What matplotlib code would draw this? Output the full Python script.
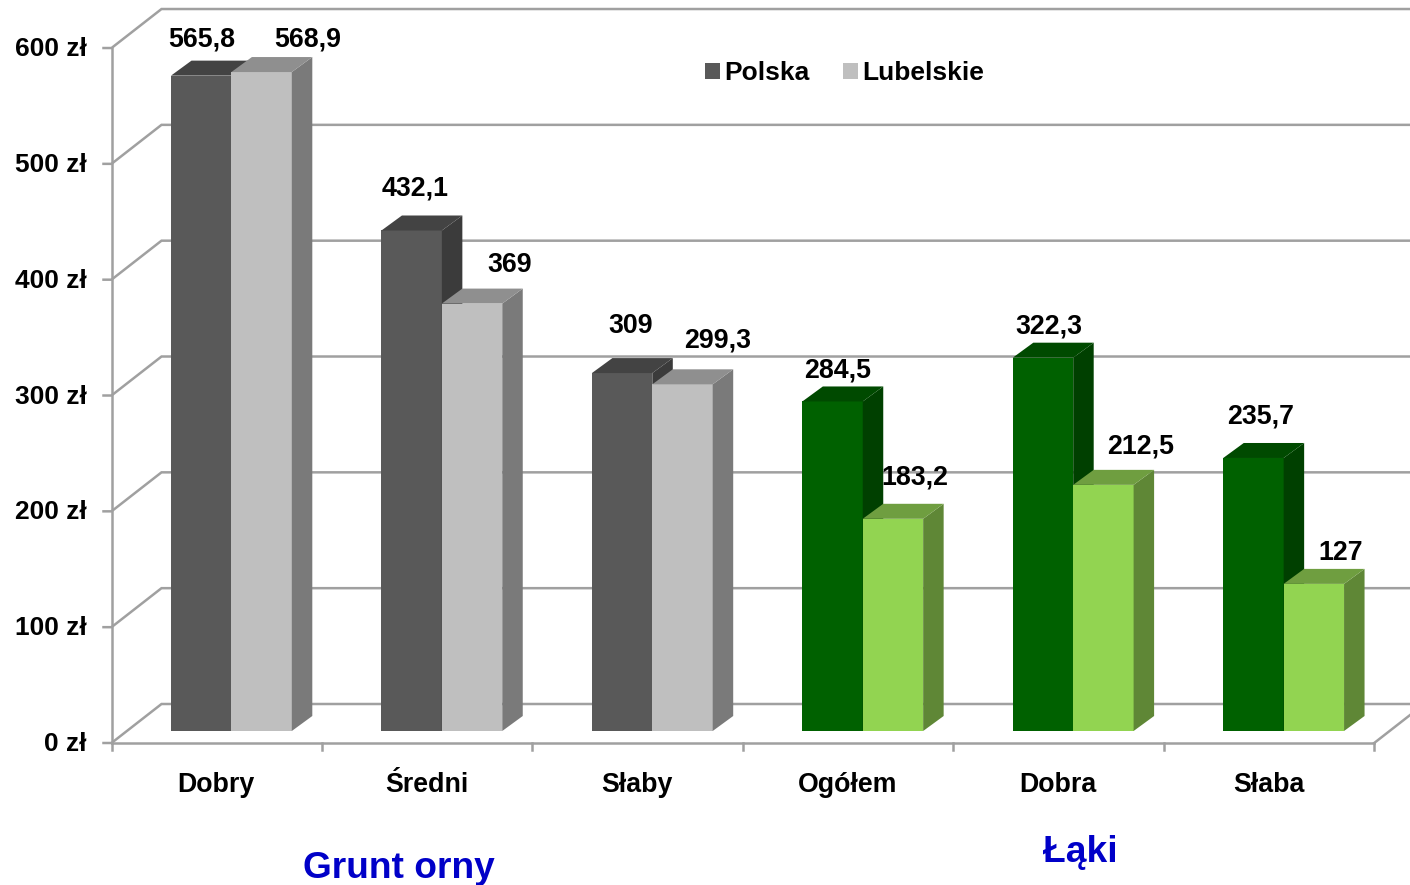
import matplotlib
matplotlib.use('Agg')
import matplotlib.pyplot as plt
from matplotlib.patches import Patch

plt.rcParams['font.family'] = ['Liberation Sans', 'DejaVu Sans']
plt.rcParams['font.weight'] = 'bold'

categories = ['Dobry', 'Średni', 'Słaby', 'Ogółem', 'Dobra', 'Słaba']
polska = [565.8, 432.1, 309, 284.5, 322.3, 235.7]
lubelskie = [568.9, 369, 299.3, 183.2, 212.5, 127]
polska_labels = ['565,8', '432,1', '309', '284,5', '322,3', '235,7']
lubelskie_labels = ['568,9', '369', '299,3', '183,2', '212,5', '127']
y_ticks = [0, 100, 200, 300, 400, 500, 600]
y_tick_labels = ['0 zł', '100 zł', '200 zł', '300 zł', '400 zł', '500 zł', '600 zł']

# label offsets from the bar top (px), set by hand like in the original chart
polska_off = [(1, 36), (3.5, 42), (8.5, 47), (5.5, 31), (5.5, 31), (7.5, 41)]
lubelskie_off = [(46, 33), (38, 39), (35, 44), (21.5, 41), (37.5, 38), (26.5, 31)]

# colours: front, side, top
dark_grey = ('#595959', '#3b3b3b', '#434343')
light_grey = ('#bfbfbf', '#7a7a7a', '#8f8f8f')
dark_green = ('#006100', '#004000', '#004a00')
light_green = ('#92d451', '#5f8736', '#6f9e40')
grid_col = '#a0a0a0'

# pixel scale of the front plane
W, H = 1410, 885
X0, Y0 = 111.5, 743
PX_CAT = 210.45
PX_VAL = 1.1583


def dx(px):
    return px / PX_CAT


def dy(px):
    return px / PX_VAL


fig = plt.figure(figsize=(W / 100, H / 100), dpi=100)
ax = fig.add_axes([0, 0, 1, 1])
ax.set_xlim(dx(-X0), dx(W - X0))
ax.set_ylim(dy(Y0 - H), dy(Y0))
ax.axis('off')

n = len(categories)
wall_x = dx(50)
wall_y = dy(39)
lw = 1.8

# walls and grid
ax.plot([0, 0], [0, 600], color=grid_col, lw=lw, zorder=1)
ax.plot([0, n], [0, 0], color=grid_col, lw=lw, zorder=1)
for t, lab in zip(y_ticks, y_tick_labels):
    ax.plot([dx(-8), 0, wall_x, ax.get_xlim()[1]], [t, t, t + wall_y, t + wall_y],
            color=grid_col, lw=lw, zorder=1, solid_joinstyle='miter')
    ax.text(dx(-24.5), t - dy(1), lab, ha='right', va='center', fontsize=19, color='black')
ax.plot([n, n + wall_x], [0, wall_y], color=grid_col, lw=lw, zorder=1)
for i in range(n + 1):
    ax.plot([i, i], [0, dy(-7)], color=grid_col, lw=lw, zorder=1)

# bars
bar_w = dx(60.4)
start = dx(59.5)
base = dy(12)
depth_x = dx(20.5)
depth_y = dy(15)


def bar3d(x, v, cols, z):
    ax.bar(x, v, width=bar_w, bottom=base, align='edge', color=cols[0], lw=0, zorder=z)
    top = base + v
    r = x + bar_w
    ax.fill([r, r + depth_x, r + depth_x, r],
            [base, base + depth_y, top + depth_y, top], color=cols[1], lw=0, zorder=z)
    ax.fill([x, x + depth_x, r + depth_x, r],
            [top, top + depth_y, top + depth_y, top], color=cols[2], lw=0, zorder=z)


for i in range(n):
    c1 = dark_grey if i < 3 else dark_green
    c2 = light_grey if i < 3 else light_green
    bar3d(i + start, polska[i], c1, 2 + i * 2)
    bar3d(i + start + bar_w, lubelskie[i], c2, 3 + i * 2)

# value labels
for i in range(n):
    cx = i + start + bar_w / 2
    ax.text(cx + dx(polska_off[i][0]), base + polska[i] + dy(polska_off[i][1]),
            polska_labels[i], ha='center', va='center', fontsize=19.3, zorder=30)
    ax.text(cx + bar_w + dx(lubelskie_off[i][0]), base + lubelskie[i] + dy(lubelskie_off[i][1]),
            lubelskie_labels[i], ha='center', va='center', fontsize=19.3, zorder=30)

# category labels
for i, c in enumerate(categories):
    ax.text(i + 0.5 - dx(0.5), dy(-42), c, ha='center', va='center', fontsize=19.3)

# group titles
ax.text(dx(399 - X0), dy(Y0 - 868), 'Grunt orny', ha='center', va='center',
        fontsize=26.7, color='#0000c8')
ax.text(dx(1080.5 - X0), dy(Y0 - 853), 'Łąki', ha='center', va='center',
        fontsize=26.7, color='#0000c8')

handles = [Patch(color=dark_grey[0], lw=0), Patch(color=light_grey[0], lw=0)]
ax.legend(handles, ['Polska', 'Lubelskie'], ncol=2, frameon=False, fontsize=19,
          loc='center left', bbox_to_anchor=(705 / W, 1 - 73 / H), bbox_transform=fig.transFigure,
          handlelength=0.57, handleheight=0.57, handletextpad=0.17, columnspacing=1.25,
          borderpad=0, borderaxespad=0)

plt.savefig('out.png', dpi=100)
